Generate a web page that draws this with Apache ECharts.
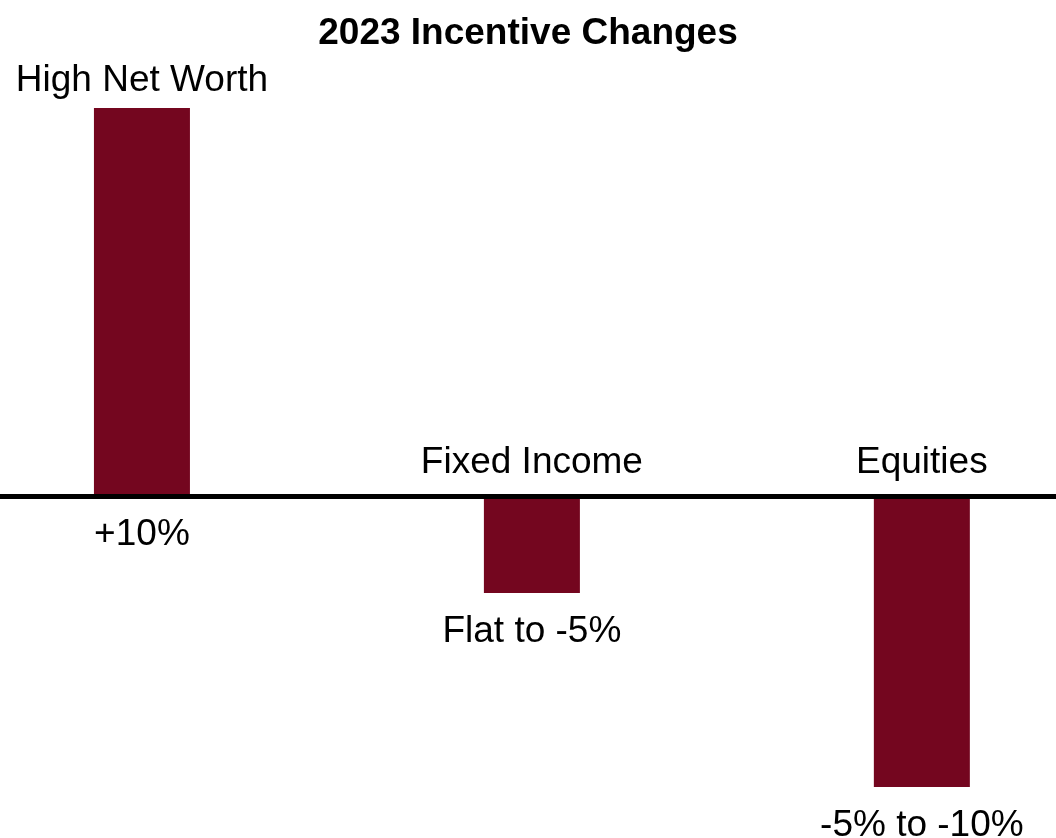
<!DOCTYPE html>
<html>
<head>
<meta charset="utf-8">
<script src="https://cdn.jsdelivr.net/npm/echarts@6/dist/echarts.min.js"></script>
<style>
  html, body { margin: 0; padding: 0; background: #fff; }
  #chart { width: 1056px; height: 838px; }
</style>
</head>
<body>
<div id="chart"></div>
<script>
// chart data
const categories = ['High Net Worth', 'Fixed Income', 'Equities'];
const changeValues = [10, -2.5, -7.5];
const changeLabels = ['+10%', 'Flat to -5%', '-5% to -10%'];

const barColor = '#74061f';
const font = 'Liberation Sans';

// bars sit at x = 0, 1, 2 on a hidden value axis so they can be spaced like the original
const nameData = changeValues.map((v, i) => ({
  value: [i, v],
  label: { distance: v >= 0 ? 9 : 15 }
}));
const rangeData = changeValues.map((v, i) => [i, v]);

const chart = echarts.init(document.getElementById('chart'));

const option = {
  animation: false,
  title: {
    text: '2023 Incentive Changes',
    left: 'center',
    top: 10,
    textStyle: { fontFamily: font, fontSize: 37, fontWeight: 'bold', color: '#000' }
  },
  grid: { left: 0, right: 0, top: 108, bottom: 51 },
  xAxis: {
    type: 'value',
    min: -0.364,
    max: 2.344,
    z: 5,
    splitLine: { show: false },
    axisLine: { show: true, onZero: true, lineStyle: { color: '#000', width: 5 } },
    axisTick: { show: false },
    axisLabel: { show: false }
  },
  yAxis: {
    type: 'value',
    min: -7.5,
    max: 10,
    show: false,
    splitLine: { show: false }
  },
  series: [
    {
      // category names above each bar (or above the zero line for negatives)
      type: 'bar',
      data: nameData,
      barWidth: 96,
      itemStyle: { color: barColor },
      label: {
        show: true,
        position: 'top',
        formatter: p => categories[p.dataIndex],
        fontFamily: font,
        fontSize: 37,
        color: '#000'
      }
    },
    {
      // value range labels underneath
      type: 'bar',
      data: rangeData,
      barWidth: 96,
      barGap: '-100%',
      itemStyle: { color: 'rgba(0,0,0,0)' },
      label: {
        show: true,
        position: 'bottom',
        distance: 20,
        formatter: p => changeLabels[p.dataIndex],
        fontFamily: font,
        fontSize: 37,
        color: '#000'
      }
    }
  ]
};

chart.setOption(option);
</script>
</body>
</html>
